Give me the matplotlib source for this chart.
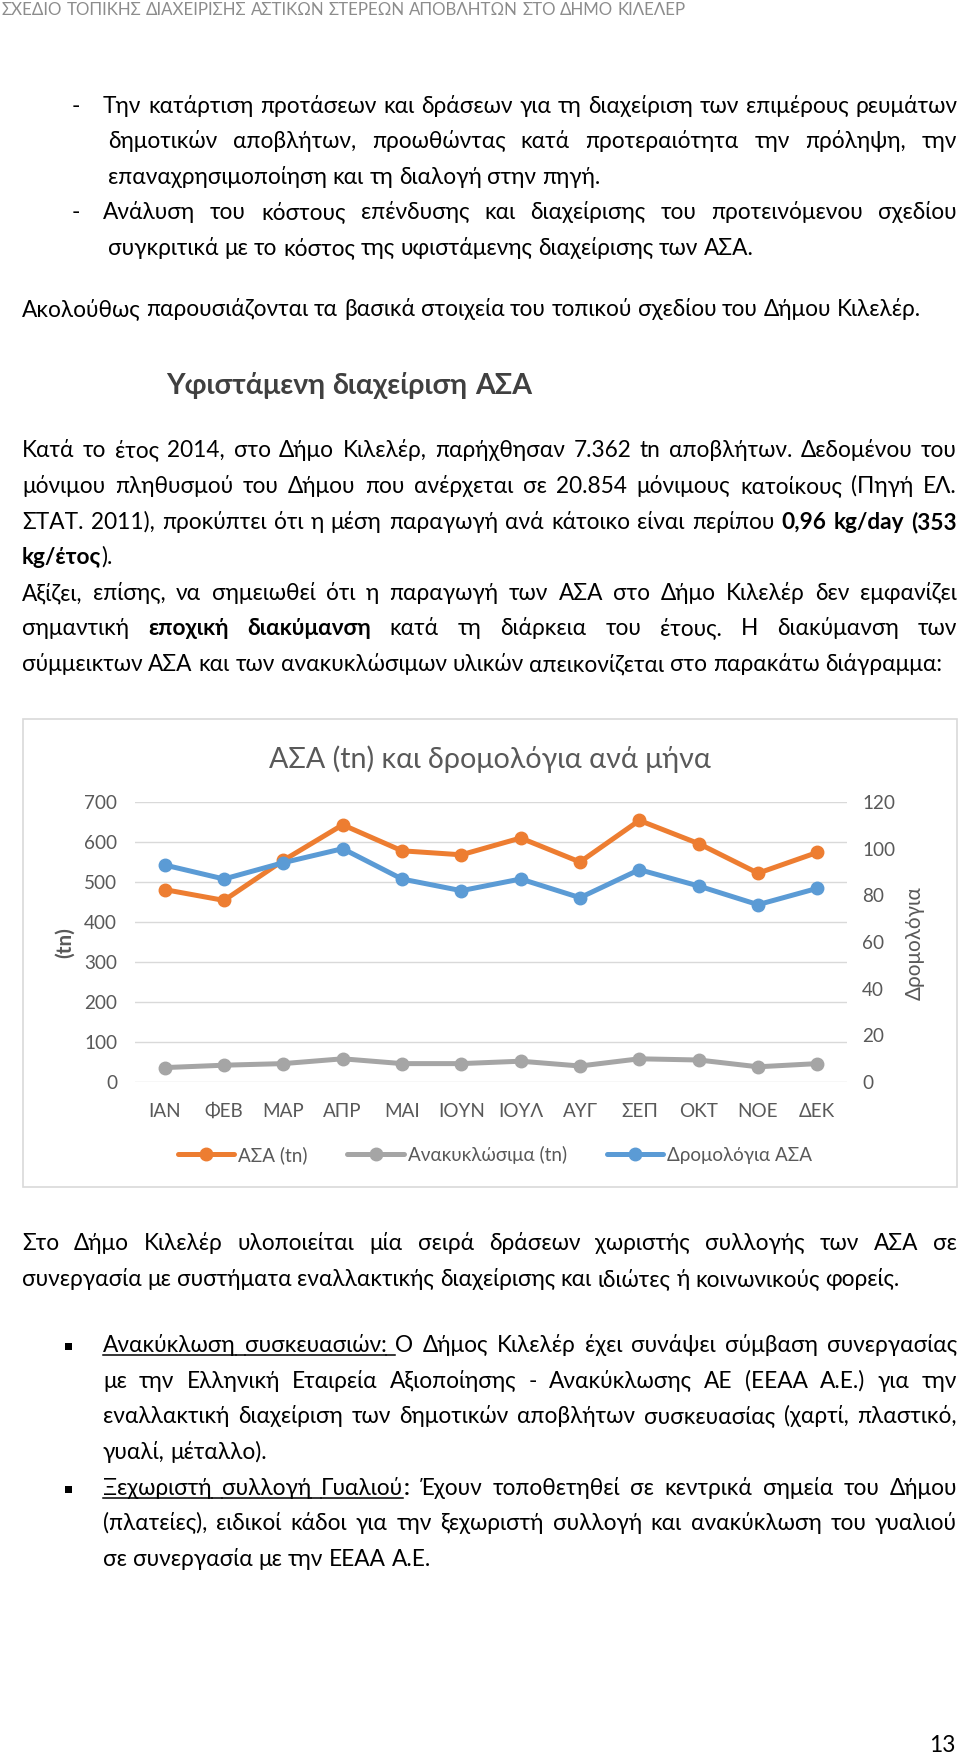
import matplotlib
matplotlib.use('Agg')
import matplotlib.pyplot as plt
from matplotlib import font_manager
from matplotlib.ft2font import FT2Font
from matplotlib.lines import Line2D
from matplotlib.patches import Rectangle

# ---- chart data ----
months = ['ΙΑΝ', 'ΦΕΒ', 'ΜΑΡ', 'ΑΠΡ', 'ΜΑΙ', 'ΙΟΥΝ', 'ΙΟΥΛ', 'ΑΥΓ', 'ΣΕΠ', 'ΟΚΤ', 'ΝΟΕ', 'ΔΕΚ']
asa_tn = [481, 454, 554, 643, 578, 568, 610, 550, 654, 596, 522, 574]
recycl_tn = [36, 42, 46, 58, 46, 46, 52, 40, 58, 55, 38, 46]
routes = [93, 87, 94, 100, 87, 82, 87, 79, 91, 84, 76, 83]
left_ticks = [0, 100, 200, 300, 400, 500, 600, 700]
right_ticks = [0, 20, 40, 60, 80, 100, 120]

# ---- page text ----
header = 'ΣΧΕΔΙΟ ΤΟΠΙΚΗΣ ΔΙΑΧΕΙΡΙΣΗΣ ΑΣΤΙΚΩΝ ΣΤΕΡΕΩΝ ΑΠΟΒΛΗΤΩΝ ΣΤΟ ΔΗΜΟ ΚΙΛΕΛΕΡ'
heading = 'Υφιστάμενη διαχείριση ΑΣΑ'
chart_title = 'ΑΣΑ (tn) και δρομολόγια ανά μήνα'
intro = 'Ακολούθως παρουσιάζονται τα βασικά στοιχεία του τοπικού σχεδίου του Δήμου Κιλελέρ.'

W, H = 960, 1760


def pick_font():
    for fam in ['Lato', 'Open Sans', 'Noto Sans']:
        try:
            path = font_manager.findfont(font_manager.FontProperties(family=fam),
                                         fallback_to_default=False)
            if FT2Font(path).get_char_index(ord('λ')):
                return fam
        except Exception:
            pass
    return 'DejaVu Sans'


FONT = pick_font()
plt.rcParams['font.family'] = [FONT, 'DejaVu Sans']

fig = plt.figure(figsize=(W / 100, H / 100), dpi=100)
fig.patch.set_facecolor('white')
rend = fig.canvas.get_renderer()


def fx(x):
    return x / W


def fy(y):
    return 1 - y / H


def measure(s, size, bold=False):
    t = fig.text(0, 0, s, fontsize=size, fontweight='bold' if bold else 'normal')
    w = t.get_window_extent(rend).width
    t.remove()
    return w


BODY = 10 * 899 / measure(intro, 10)
HEAD = 10 * 365 / measure(heading, 10, True)
HDR = 10 * 683 / measure(header, 10)
TITLE = 10 * 441 / measure(chart_title, 10)
LEG = 10 * 159 / measure('Ανακυκλώσιμα (tn)', 10)
SPACE = measure('a a', BODY) - measure('aa', BODY)


def split_words(runs):
    words, cur = [], None
    for txt, st in runs:
        parts = txt.split(' ')
        for i, p in enumerate(parts):
            if i > 0:
                if cur is not None:
                    if st == 'u':
                        cur['ul'] = True
                    words.append(cur)
                cur = None
            if p:
                if cur is None:
                    cur = {'chunks': [], 'ul': False}
                cur['chunks'].append((p, st))
    if cur is not None:
        words.append(cur)
    return words


def underline(a, b, y, color):
    fig.add_artist(Line2D([fx(a), fx(b)], [fy(y + 3)] * 2, transform=fig.transFigure,
                          color=color, lw=1.1))


def draw_line(y, x0, runs, x1=None, size=None, color='black'):
    size = size or BODY
    if isinstance(runs, str):
        runs = [(runs, '')]
    words = split_words(runs)
    widths = [[measure(t, size, st == 'b') for t, st in w['chunks']] for w in words]
    tot = sum(sum(ws) for ws in widths)
    if x1 is not None and len(words) > 1:
        gap = (x1 - x0 - tot) / (len(words) - 1)
    else:
        gap = SPACE * size / BODY
    x = x0
    for w, ws in zip(words, widths):
        for (t, st), cw in zip(w['chunks'], ws):
            fig.text(fx(x), fy(y), t, fontsize=size, color=color, ha='left', va='baseline',
                     fontweight='bold' if st == 'b' else 'normal')
            if st == 'u':
                underline(x, x + cw, y, color)
            x += cw
        if w['ul']:
            underline(x, x + gap, y, color)
        x += gap


R = 957

# header
draw_line(15, 2, header, size=HDR, color='#8c8c8c')

# top bullet list
fig.text(fx(72), fy(113), '-', fontsize=BODY, va='baseline')
draw_line(113, 103, 'Την κατάρτιση προτάσεων και δράσεων για τη διαχείριση των επιμέρους ρευμάτων', R)
draw_line(148, 108, 'δημοτικών αποβλήτων, προωθώντας κατά προτεραιότητα την πρόληψη, την', R)
draw_line(184, 108, 'επαναχρησιμοποίηση και τη διαλογή στην πηγή.')
fig.text(fx(72), fy(219), '-', fontsize=BODY, va='baseline')
draw_line(219, 103, 'Ανάλυση του κόστους επένδυσης και διαχείρισης του προτεινόμενου σχεδίου', R)
draw_line(255, 108, 'συγκριτικά με το κόστος της υφιστάμενης διαχείρισης των ΑΣΑ.')
draw_line(316, 22, intro)

# heading
draw_line(394, 166, [(heading, 'b')], size=HEAD, color='#404040')

# paragraph
draw_line(457, 22, 'Κατά το έτος 2014, στο Δήμο Κιλελέρ, παρήχθησαν 7.362 tn αποβλήτων. Δεδομένου του', R)
draw_line(493, 22, 'μόνιμου πληθυσμού του Δήμου που ανέρχεται σε 20.854 μόνιμους κατοίκους (Πηγή ΕΛ.', R)
draw_line(529, 22, [('ΣΤΑΤ. 2011), προκύπτει ότι η μέση παραγωγή ανά κάτοικο είναι περίπου ', ''),
                    ('0,96 kg/day (353', 'b')], R)
draw_line(564, 22, [('kg/έτος', 'b'), (').', '')])
draw_line(600, 22, 'Αξίζει, επίσης, να σημειωθεί ότι η παραγωγή των ΑΣΑ στο Δήμο Κιλελέρ δεν εμφανίζει', R)
draw_line(635, 22, [('σημαντική ', ''), ('εποχική διακύμανση', 'b'),
                    (' κατά τη διάρκεια του έτους. Η διακύμανση των', '')], R)
draw_line(671, 22, 'σύμμεικτων ΑΣΑ και των ανακυκλώσιμων υλικών απεικονίζεται στο παρακάτω διάγραμμα:')

# ---- chart ----
fig.add_artist(Rectangle((fx(23), fy(1187)), (957 - 23) / W, (1187 - 719) / H,
                         transform=fig.transFigure, fill=False, edgecolor='#d9d9d9', lw=1.2))
fig.text(fx(490), fy(768), chart_title, fontsize=TITLE, color='#595959', ha='center', va='baseline')

ax = fig.add_axes([fx(135), fy(1082), 712 / W, 280 / H])
xs = list(range(len(months)))
l1, = ax.plot(xs, asa_tn, color='#ED7D31', lw=3.6, marker='o', ms=9, label='ΑΣΑ (tn)',
              solid_joinstyle='round', solid_capstyle='round')
l2, = ax.plot(xs, recycl_tn, color='#A5A5A5', lw=3.6, marker='o', ms=9, label='Ανακυκλώσιμα (tn)',
              solid_joinstyle='round', solid_capstyle='round')
ax.set_xlim(-0.5, len(months) - 0.5)
ax.set_ylim(0, 700)
ax.set_yticks(left_ticks)
ax.set_xticks(xs)
ax.set_xticklabels(months)
ax.yaxis.grid(True, color='#d9d9d9', lw=1)
ax.set_axisbelow(True)
ax.tick_params(axis='y', length=0, pad=13, labelsize=LEG, labelcolor='#595959')
ax.tick_params(axis='x', length=0, pad=15, labelsize=LEG, labelcolor='#595959')
for s in ax.spines.values():
    s.set_visible(False)

ax2 = ax.twinx()
l3, = ax2.plot(xs, routes, color='#5B9BD5', lw=3.6, marker='o', ms=9, label='Δρομολόγια ΑΣΑ',
               solid_joinstyle='round', solid_capstyle='round')
ax2.set_ylim(0, 120)
ax2.set_yticks(right_ticks)
ax2.tick_params(axis='y', length=0, pad=11, labelsize=LEG, labelcolor='#595959')
for s in ax2.spines.values():
    s.set_visible(False)

fig.text(fx(65), fy(943), '(tn)', rotation=90, fontsize=LEG * 1.1, fontweight='bold',
         color='#595959', ha='center', va='center')
fig.text(fx(915), fy(943), 'Δρομολόγια', rotation=90, fontsize=LEG * 1.1,
         color='#595959', ha='center', va='center')

fig.legend(handles=[l1, l2, l3], loc='center', bbox_to_anchor=(fx(495), fy(1155)), ncol=3,
           frameon=False, fontsize=LEG, labelcolor='#595959', handlelength=3.0,
           handletextpad=0.2, columnspacing=2.1, markerscale=1.0)

# ---- text after chart ----
draw_line(1250, 22, 'Στο Δήμο Κιλελέρ υλοποιείται μία σειρά δράσεων χωριστής συλλογής των ΑΣΑ σε', R)
draw_line(1286, 22, 'συνεργασία με συστήματα εναλλακτικής διαχείρισης και ιδιώτες ή κοινωνικούς φορείς.')

for by in (1352, 1495):
    fig.add_artist(Rectangle((fx(65), fy(by - 2)), 7 / W, 7 / H, transform=fig.transFigure,
                             color='black', lw=0))

draw_line(1352, 103, [('Ανακύκλωση συσκευασιών: ', 'u'),
                      ('Ο Δήμος Κιλελέρ έχει συνάψει σύμβαση συνεργασίας', '')], R)
draw_line(1388, 103, 'με την Ελληνική Εταιρεία Αξιοποίησης - Ανακύκλωσης ΑΕ (ΕΕΑΑ Α.Ε.) για την', R)
draw_line(1423, 103, 'εναλλακτική διαχείριση των δημοτικών αποβλήτων συσκευασίας (χαρτί, πλαστικό,', R)
draw_line(1459, 103, 'γυαλί, μέταλλο).')
draw_line(1495, 103, [('Ξεχωριστή συλλογή Γυαλιού', 'u'), (':', 'b'),
                      (' Έχουν τοποθετηθεί σε κεντρικά σημεία του Δήμου', '')], R)
draw_line(1530, 103, '(πλατείες), ειδικοί κάδοι για την ξεχωριστή συλλογή και ανακύκλωση του γυαλιού', R)
draw_line(1566, 103, 'σε συνεργασία με την ΕΕΑΑ Α.Ε.')

fig.text(fx(955), fy(1752), '13', fontsize=BODY, ha='right', va='baseline')

fig.savefig('out.png', dpi=100, facecolor='white')
